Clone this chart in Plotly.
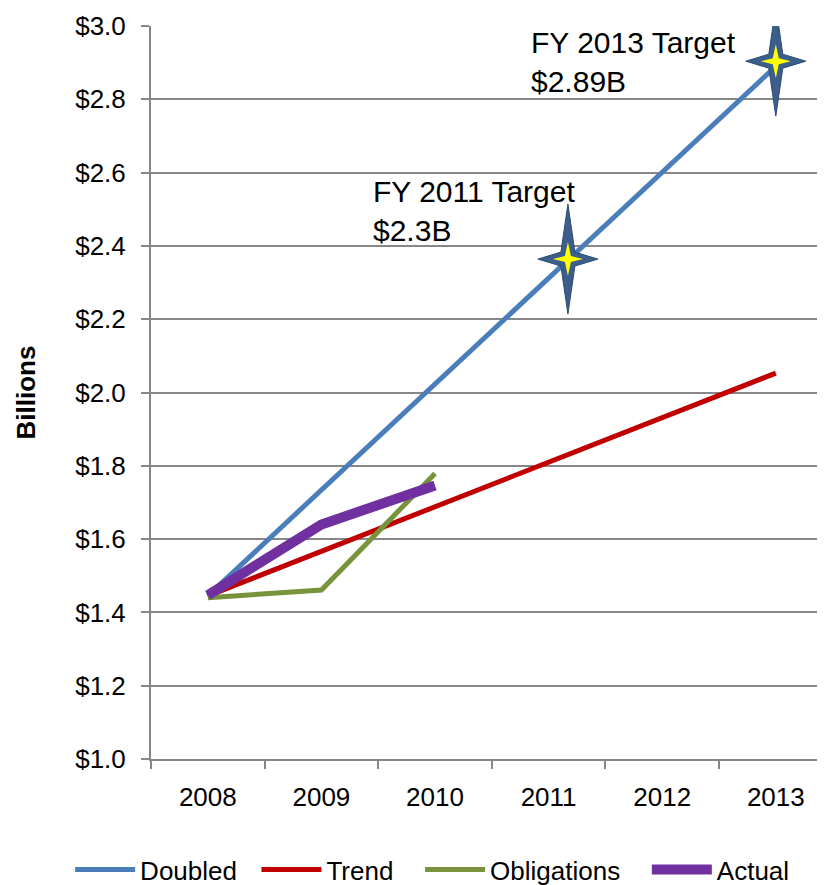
import plotly.graph_objects as go

years = ["2008", "2009", "2010", "2011", "2012", "2013"]
doubled = [1.445, 1.734, 2.023, 2.312, 2.601, 2.89]
trend = [1.445, 1.567, 1.688, 1.810, 1.931, 2.053]
obligations = [1.44, 1.461, 1.779]
actual = [1.447, 1.640, 1.746]

# targets (x in category-index units, y in billions)
target_x = [3.17, 5.0]
target_y = [2.364, 2.904]
target_text = ["FY 2011 Target<br>$2.3B", "FY 2013 Target<br>$2.89B"]
label_x = [1.44, 2.83]
label_y = [2.598, 2.995]
label_shift = [0, 4]

NB = "\u00a0"
xi = list(range(len(years)))
FONT = "Liberation Sans, Arial, sans-serif"
GRID = "#878787"

fig = go.Figure()
fig.add_trace(go.Scatter(x=xi, y=doubled, mode="lines", name="Doubled" + NB * 2,
                         line=dict(color="#4A7EBB", width=5)))
fig.add_trace(go.Scatter(x=xi, y=trend, mode="lines", name="Trend" + NB * 3,
                         line=dict(color="#C00000", width=5)))
fig.add_trace(go.Scatter(x=xi[:3], y=obligations, mode="lines", name="Obligations" + NB * 3,
                         line=dict(color="#77933C", width=5)))
fig.add_trace(go.Scatter(x=xi[:3], y=actual, mode="lines", name="Actual",
                         line=dict(color="#7030A0", width=10)))

def star_path(rx, ry, r):
    pts = [(0, ry), (r, r), (rx, 0), (r, -r), (0, -ry), (-r, -r), (-rx, 0), (-r, r)]
    return "M " + " L ".join(f"{a},{b}" for a, b in pts) + " Z"

shapes = []
for sx, sy in zip(target_x, target_y):
    shapes.append(dict(type="path", xref="x", yref="y", xsizemode="pixel", ysizemode="pixel",
                       xanchor=sx, yanchor=sy, path=star_path(30, 55, 7),
                       fillcolor="#3B5E8C", line=dict(color="#2F4B70", width=1)))
    shapes.append(dict(type="path", xref="x", yref="y", xsizemode="pixel", ysizemode="pixel",
                       xanchor=sx, yanchor=sy, path=star_path(15, 17, 3),
                       fillcolor="#FFFF00", line=dict(color="#FFFF00", width=0)))

annotations = []
for lx, ly, t, s in zip(label_x, label_y, target_text, label_shift):
    annotations.append(dict(x=lx, y=ly, xref="x", yref="y", text=t, showarrow=False,
                            xanchor="left", yanchor="top", align="left", yshift=s,
                            font=dict(family=FONT, size=30, color="black")))

fig.update_layout(
    width=825, height=885,
    margin=dict(l=143, r=8, t=18, b=134, autoexpand=False),
    paper_bgcolor="white", plot_bgcolor="white",
    font=dict(family=FONT, size=26, color="black"),
    shapes=shapes, annotations=annotations,
    legend=dict(orientation="h", xref="paper", x=-0.120, xanchor="left",
                yref="paper", y=-0.151, yanchor="middle",
                font=dict(family=FONT, size=26), itemwidth=60),
    showlegend=True,
)
fig.update_xaxes(
    range=[-0.5, 5.433], tickvals=xi, ticktext=years, ticks="",
    showgrid=False, zeroline=False, showline=True, linecolor=GRID, linewidth=2,
    ticklabelstandoff=14, tickfont=dict(size=26), automargin=False,
    minor=dict(tickvals=[i - 0.5 for i in range(7)], ticks="outside", ticklen=8,
               tickcolor=GRID, tickwidth=2, showgrid=False),
)
fig.update_yaxes(
    range=[1.0, 3.0], dtick=0.2, tickformat="$.1f", ticks="outside", ticklen=8,
    tickcolor=GRID, tickwidth=2, showgrid=True, gridcolor=GRID, gridwidth=2,
    zeroline=False, showline=True, linecolor=GRID, linewidth=2,
    ticklabelstandoff=10, tickfont=dict(size=26), automargin=False,
    title=dict(text="<b>Billions</b>", font=dict(size=26), standoff=32),
)

fig.write_html("out.html")
